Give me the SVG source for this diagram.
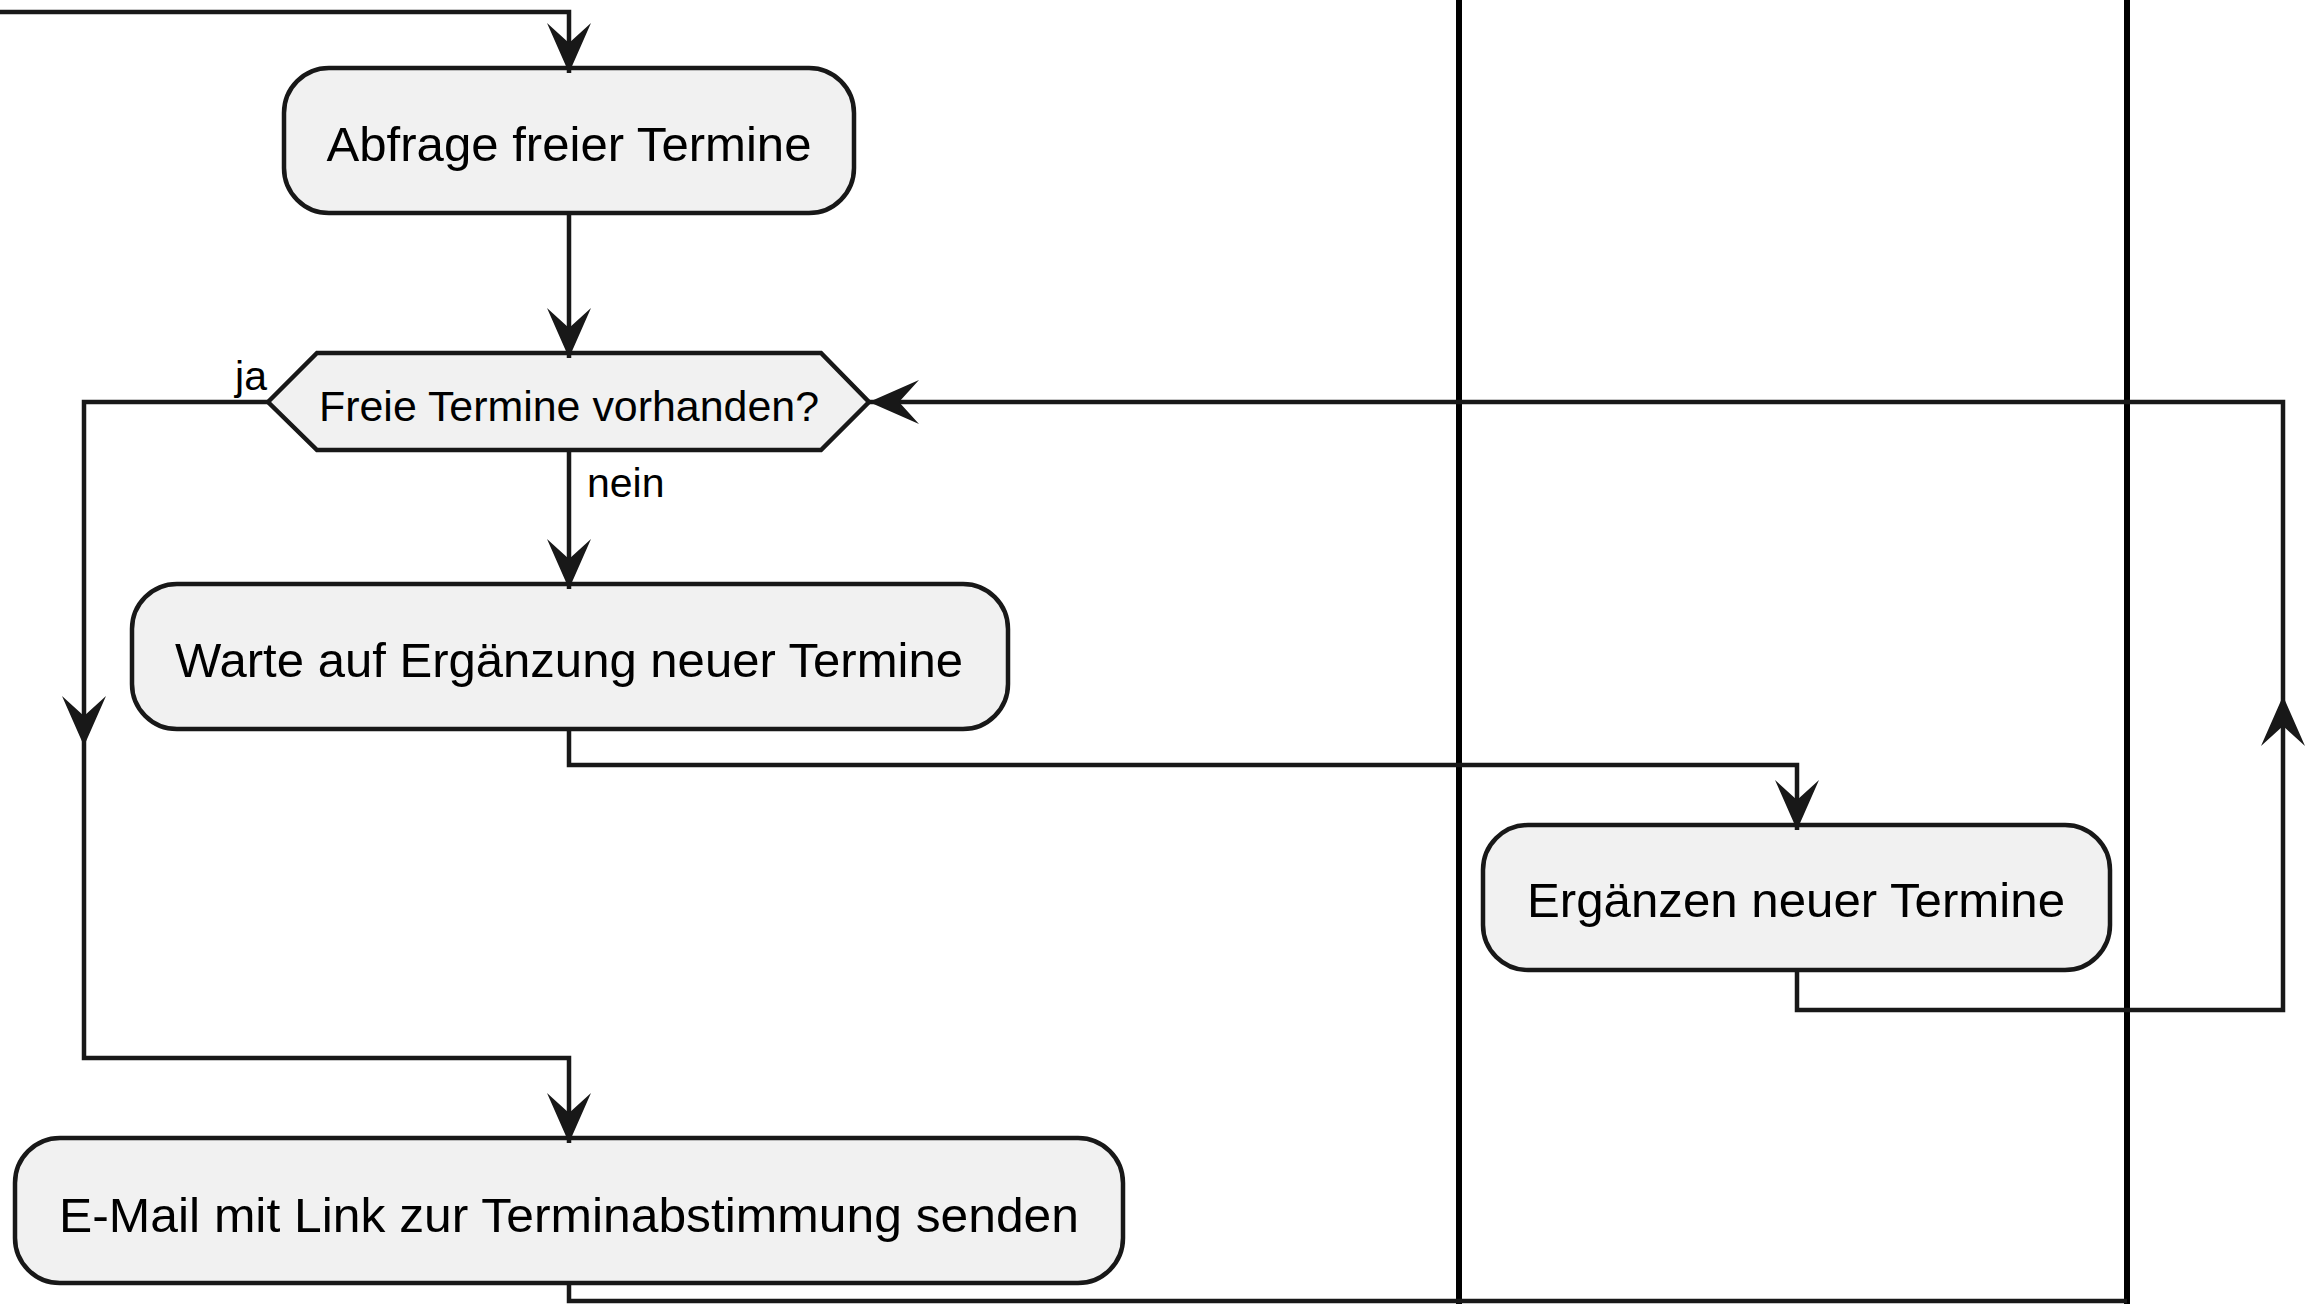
<svg xmlns="http://www.w3.org/2000/svg" width="2318" height="1304" viewBox="0 0 2318 1304">
  <style>
    .lane { stroke: #000000; stroke-width: 6; fill: none; }
    .box { fill: #F1F1F1; stroke: #181818; stroke-width: 4.5; }
    .edge { fill: none; stroke: #181818; stroke-width: 4.5; }
    .label { font-family: "Liberation Sans", Arial, sans-serif; fill: #000000; }
    .act { font-size: 48.5px; text-anchor: middle; }
    .cond { font-size: 43px; text-anchor: middle; }
    .guard { font-size: 41px; }
  </style>
  <defs>
    <marker id="arrow" markerUnits="userSpaceOnUse" markerWidth="60" markerHeight="50" viewBox="-55 -25 60 50" refX="0" refY="0" orient="auto">
      <path d="M0,0 L-50,-22 L-30,0 L-50,22 Z" fill="#181818"/>
    </marker>
  </defs>

  <rect x="0" y="0" width="2318" height="1304" fill="#FFFFFF"/>

  <!-- swimlane separators -->
  <g id="lanes">
    <line class="lane" x1="1459" y1="0" x2="1459" y2="1304"/>
    <line class="lane" x1="2127" y1="0" x2="2127" y2="1304"/>
  </g>

  <g id="abfrage">
    <rect class="box" x="284" y="68" width="570" height="145" rx="45" ry="45"/>
    <text class="label act" x="569" y="161" textLength="485" lengthAdjust="spacingAndGlyphs">Abfrage freier Termine</text>
  </g>

  <g id="decision">
    <polygon class="box" points="268,402 317,353 821,353 869,402 821,450 317,450"/>
    <text class="label cond" x="569" y="421" textLength="500" lengthAdjust="spacingAndGlyphs">Freie Termine vorhanden?</text>
  </g>

  <g id="warte">
    <rect class="box" x="132" y="584" width="876" height="145" rx="45" ry="45"/>
    <text class="label act" x="569" y="677" textLength="788" lengthAdjust="spacingAndGlyphs">Warte auf Ergänzung neuer Termine</text>
  </g>

  <g id="ergaenzen">
    <rect class="box" x="1483" y="825" width="627" height="145" rx="45" ry="45"/>
    <text class="label act" x="1796" y="917" textLength="538" lengthAdjust="spacingAndGlyphs">Ergänzen neuer Termine</text>
  </g>

  <g id="email">
    <rect class="box" x="15" y="1138" width="1108" height="145" rx="45" ry="45"/>
    <text class="label act" x="569" y="1232" textLength="1020" lengthAdjust="spacingAndGlyphs">E-Mail mit Link zur Terminabstimmung senden</text>
  </g>

  <g id="connectors">
    <!-- incoming flow -->
    <path class="edge" d="M0,12 H569 V73" marker-end="url(#arrow)"/>
    <!-- Abfrage to decision -->
    <path class="edge" d="M569,213 V358" marker-end="url(#arrow)"/>
    <!-- nein branch -->
    <path class="edge" d="M569,450 V589" marker-end="url(#arrow)"/>
    <!-- ja branch -->
    <path class="edge" d="M268,402 H84 V746" marker-end="url(#arrow)"/>
    <path class="edge" d="M84,746 V1058 H569 V1143" marker-end="url(#arrow)"/>
    <!-- Warte to Ergänzen -->
    <path class="edge" d="M569,729 V765 H1797 V830" marker-end="url(#arrow)"/>
    <!-- loop back to decision -->
    <path class="edge" d="M1797,970 V1010 H2283 V696" marker-end="url(#arrow)"/>
    <path class="edge" d="M2283,696 V402 H869" marker-end="url(#arrow)"/>
    <!-- outgoing flow -->
    <path class="edge" d="M569,1283 V1301 H2127"/>
  </g>

  <g id="guards">
    <text class="label guard" x="267" y="390" text-anchor="end">ja</text>
    <text class="label guard" x="587" y="497">nein</text>
  </g>
</svg>
